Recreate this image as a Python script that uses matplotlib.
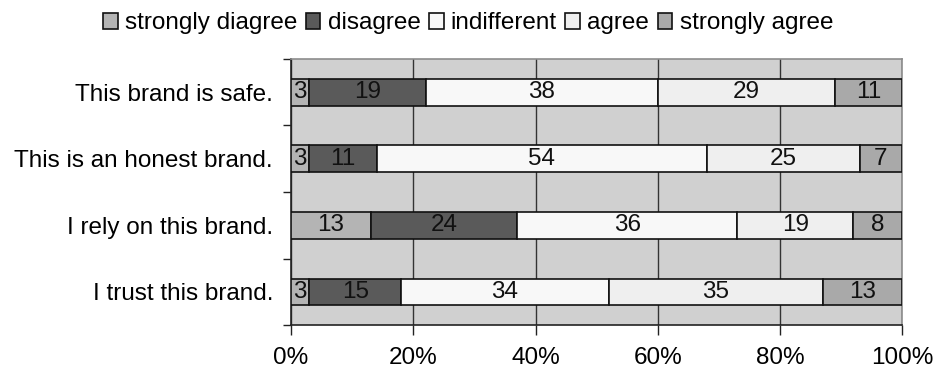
import matplotlib.pyplot as plt
import numpy as np
from matplotlib.ticker import FixedLocator, PercentFormatter

plt.rcParams['font.family'] = ['Liberation Sans', 'DejaVu Sans']

statements = ["This brand is safe.", "This is an honest brand.",
              "I rely on this brand.", "I trust this brand."]
levels = ["strongly diagree", "disagree", "indifferent", "agree", "strongly agree"]
strongly_disagree = [3, 3, 13, 3]
disagree = [19, 11, 24, 15]
indifferent = [38, 54, 36, 34]
agree = [29, 25, 19, 35]
strongly_agree = [11, 7, 8, 13]

series = [strongly_disagree, disagree, indifferent, agree, strongly_agree]
colours = ["#b4b4b4", "#5a5a5a", "#f8f8f8", "#efefef", "#a9a9a9"]

fig = plt.figure(figsize=(9.36, 3.78), dpi=100)
ax = fig.add_axes([0.311, 0.140, 0.653, 0.704])
ax.set_facecolor("#d0d0d0")

y = np.arange(len(statements))
left = np.zeros(len(statements))
for vals, col, lab in zip(series, colours, levels):
	bars = ax.barh(y, vals, left=left, height=0.4, color=col, edgecolor="#111111",
				   linewidth=1.2, label=lab, zorder=3)
	for b, v in zip(bars, vals):
		ax.text(b.get_x() + b.get_width() / 2, b.get_y() + b.get_height() / 2, str(v),
				ha="center", va="center", fontsize=17.5, color="#111111", zorder=4)
	left += np.array(vals)

ax.set_xlim(0, 100)
ax.set_ylim(len(statements) - 0.5, -0.5)
ax.set_xticks([0, 20, 40, 60, 80, 100])
ax.xaxis.set_major_formatter(PercentFormatter(decimals=0))
ax.set_yticks(y)
ax.set_yticklabels(statements)
ax.yaxis.set_major_locator(FixedLocator(y))
ax.set_yticks(np.arange(-0.5, len(statements)), minor=True)
ax.tick_params(axis="y", which="major", length=0, pad=13, labelsize=17.5)
ax.tick_params(axis="y", which="minor", length=6, width=1, direction="out", color="#222222")
ax.tick_params(axis="x", length=7, width=1, direction="out", pad=9, labelsize=17.5, color="#222222")
ax.grid(axis="x", color="#333333", linewidth=1, zorder=1)
ax.set_axisbelow(True)

ax.spines["left"].set_color("#222222")
ax.spines["bottom"].set_color("#222222")
ax.spines["top"].set_color("#8c8c8c")
ax.spines["right"].set_color("#8c8c8c")
for s in ax.spines.values():
	s.set_linewidth(1.2)

fig.legend(loc="upper center", bbox_to_anchor=(0.5, 1.025), ncol=5, frameon=False,
		   fontsize=17.5, handlelength=0.6, handleheight=0.6, handletextpad=0.3,
		   columnspacing=0.35)

fig.savefig("out.png", dpi=100)
